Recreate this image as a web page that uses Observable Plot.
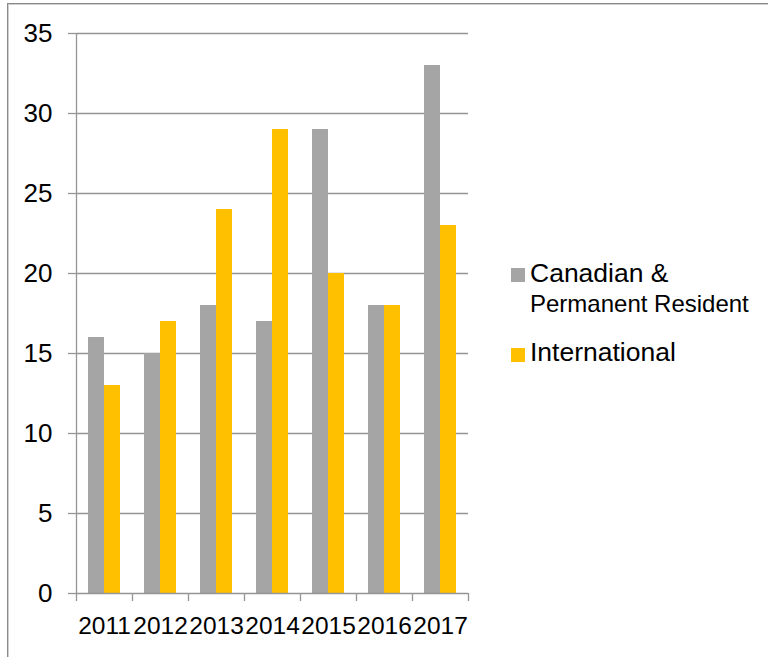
<!DOCTYPE html>
<html>
<head>
<meta charset="utf-8">
<script src="https://cdn.jsdelivr.net/npm/d3@7"></script>
<script src="https://cdn.jsdelivr.net/npm/@observablehq/plot@0.6"></script>
<style>
  html, body { margin: 0; padding: 0; background: #fff; }
  #wrap { position: relative; width: 768px; height: 657px; overflow: hidden;
          font-family: "Liberation Sans", Arial, sans-serif; }
  #frame { position: absolute; left: 7px; top: 3px; right: -2px; bottom: -2px;
           border-top: 1px solid #8a8a8a; border-left: 1px solid #8a8a8a;
           box-shadow: inset 1px 1px 0 #cfcfcf; pointer-events: none; }
  #legend { position: absolute; left: 0; top: 0; color: #000; }
  .sw { position: absolute; width: 14px; height: 14px; }
  .lt { position: absolute; white-space: nowrap; line-height: 1; }
</style>
</head>
<body>
<div id="wrap">
  <div id="chart"></div>
  <div id="frame"></div>
  <div id="legend"></div>
</div>
<script>
// Enrolment counts by year and student group
const years = ["2011", "2012", "2013", "2014", "2015", "2016", "2017"];
const canadianPR = [16, 15, 18, 17, 29, 18, 33];
const international = [13, 17, 24, 29, 20, 18, 23];
const seriesNames = ["Canadian & Permanent Resident", "International"];
const seriesColors = ["#a5a5a5", "#ffc000"];
const yTicks = [0, 5, 10, 15, 20, 25, 30, 35];

const rows = [];
years.forEach((y, i) => {
  rows.push({year: y, i, series: seriesNames[0], value: canadianPR[i]});
  rows.push({year: y, i, series: seriesNames[1], value: international[i]});
});

const gridColor = "#959595";
const bounds = d3.range(years.length + 1);
const centers = years.map((_, i) => i + 0.5);

const plot = Plot.plot({
  width: 768,
  height: 657,
  marginLeft: 76,
  marginRight: 300,
  marginTop: 33,
  marginBottom: 64,
  style: {fontFamily: "Liberation Sans, Arial, sans-serif", color: "#000", background: "transparent"},
  x: {type: "linear", domain: [0, years.length], axis: null},
  y: {domain: [0, 35], axis: null},
  color: {domain: seriesNames, range: seriesColors},
  marks: [
    Plot.gridY(yTicks.filter(d => d > 0), {stroke: gridColor, strokeOpacity: 1, strokeWidth: 1.3}),
    Plot.axisY({ticks: yTicks, tickSize: 8, tickPadding: 16, stroke: gridColor, strokeWidth: 1.3,
                fontSize: 26, label: null, textStroke: "none"}),
    // Canadian & PR bars on the left half of each year group, International on the right
    Plot.rectY(rows.filter(d => d.series === seriesNames[0]),
      {x1: "i", x2: d => d.i + 1, y: "value", fill: "series", insetLeft: 12, insetRight: 28}),
    Plot.rectY(rows.filter(d => d.series === seriesNames[1]),
      {x1: "i", x2: d => d.i + 1, y: "value", fill: "series", insetLeft: 28, insetRight: 12}),
    Plot.ruleX([0], {stroke: gridColor, strokeWidth: 1.3}),
    Plot.ruleY([0], {stroke: gridColor, strokeWidth: 1.3}),
    Plot.axisX({ticks: bounds, tickFormat: () => "", tickSize: 8, stroke: gridColor, strokeWidth: 1.3, label: null}),
    Plot.axisX({ticks: centers, tickFormat: d => years[Math.round(d - 0.5)], tickSize: 0,
                tickPadding: 23, fontSize: 24.5, label: null})
  ]
});
plot.querySelectorAll("text").forEach(t => t.setAttribute("fill", "#000"));
document.getElementById("chart").appendChild(plot);

// Legend to the right of the plot
const legend = document.getElementById("legend");
const legendItems = [
  {color: seriesColors[0], lines: [["Canadian &", 26.5, 284], ["Permanent Resident", 24, 314]], box: 268},
  {color: seriesColors[1], lines: [["International", 26.5, 363]], box: 348}
];
legendItems.forEach(item => {
  const sw = document.createElement("div");
  sw.className = "sw";
  sw.style.left = "511px";
  sw.style.top = item.box + "px";
  sw.style.background = item.color;
  legend.appendChild(sw);
  item.lines.forEach(([txt, size, base]) => {
    const el = document.createElement("div");
    el.className = "lt";
    el.textContent = txt;
    el.style.fontSize = size + "px";
    el.style.left = "530px";
    // line-height 1: baseline sits about 0.905em below the top in Liberation Sans
    el.style.top = (base - size * 0.905) + "px";
    legend.appendChild(el);
  });
});
</script>
</body>
</html>
